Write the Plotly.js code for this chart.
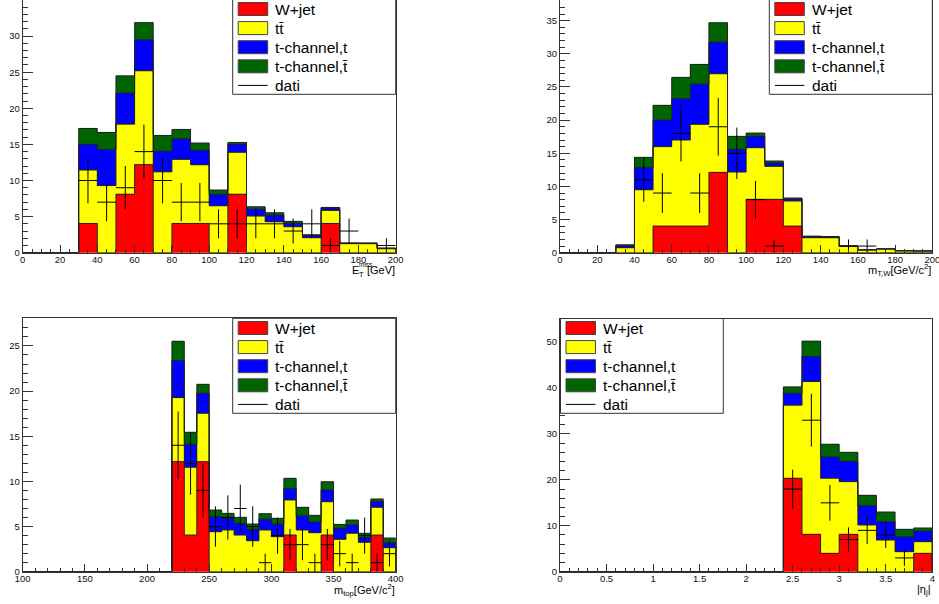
<!DOCTYPE html>
<html><head><meta charset="utf-8">
<script src="https://cdn.plot.ly/plotly-3.0.1.min.js"></script>
<style>html,body{margin:0;padding:0;background:#fff;overflow:hidden}#chart{width:939px;height:604px}</style>
</head><body><div id="chart"></div>
<script>
// ---------- Panel 1: E_T^miss [GeV] ----------
const metCenters = [5,15,25,35,45,55,65,75,85,95,105,115,125,135,145,155,165,175,185,195];
const metBinWidth = 10;
const metWjet  = [0,0,0,4.05,0,8.1,12.2,0,4.05,4.05,0,8.1,0,0,0,0,4.05,0,0,0];
const metTtbar = [0,0,0,7.4,9.3,9.7,13.0,11.2,8.87,8.13,6.5,5.8,5.08,4.29,3.6,2.08,1.8,1.25,1.25,0.55];
const metTchT  = [0,0,0,3.56,5.0,4.3,4.3,2.87,2.86,2.0,1.58,1.1,0.97,0.92,0.46,0.32,0.32,0.06,0.05,0.05];
const metTchTb = [0,0,0,2.2,2.36,2.4,2.37,2.17,1.29,1.01,0.6,0.27,0.32,0.33,0.28,0.09,0.1,0.05,0.05,0.05];
const metData  = [0,0,0,10,7,9,14,10,7,7,4,4,4,4,3,4,1,3,0,1];

// ---------- Panel 2: m_T,W [GeV/c^2] ----------
const mtwCenters = [5,15,25,35,45,55,65,75,85,95,105,115,125,135,145,155,165,175,185,195];
const mtwBinWidth = 10;
const mtwWjet  = [0,0,0,0,0,4.02,4.02,4.02,12.12,0,8.05,8.05,4.02,0,0,0,0,0,0,0];
const mtwTtbar = [0,0,0,0.75,9.5,11.98,12.98,15.34,14.88,12.17,7.79,4.97,3.78,2.26,2.26,0.95,0.4,0.55,0.28,0.25];
const mtwTchT  = [0,0,0,0.31,3.37,4.0,6.23,6.08,4.78,3.42,1.71,0.51,0.3,0.19,0.14,0.04,0.02,0.02,0.01,0.01];
const mtwTchTb = [0,0,0,0.14,1.51,2.23,3.22,2.96,2.92,1.96,0.5,0.3,0.15,0.05,0.05,0.03,0.03,0.02,0.02,0.02];
const mtwData  = [0,0,0,0,11,9,18,9,19,15,8,1,0,0,0,1,1,0,0,0];

// ---------- Panel 3: m_top [GeV/c^2] ----------
const mtopCenters = [105,115,125,135,145,155,165,175,185,195,205,215,225,235,245,255,265,275,285,295,305,315,325,335,345,355,365,375,385,395];
const mtopBinWidth = 10;
const mtopWjet  = [0,0,0,0,0,0,0,0,0,0,0,0,12.19,4.06,12.19,0,0,0,0,0,0,4.06,0,0,4.06,0,0,0,4.06,0];
const mtopTtbar = [0,0,0,0,0,0,0,0,0,0,0,0,7.09,7.5,5.35,4.43,4.62,4.06,3.43,4.62,3.88,3.88,4.62,4.32,3.69,3.58,4.25,3.25,3.07,2.66];
const mtopTchT  = [0,0,0,0,0,0,0,0,0,0,0,0,4.1,2.54,2.22,1.66,1.29,1.29,1.26,1.21,1.4,1.26,1.55,1.18,1.3,1.22,0.92,0.52,0.66,0.55];
const mtopTchTb = [0,0,0,0,0,0,0,0,0,0,0,0,2.14,1.34,0.99,0.74,0.55,0.67,0.59,0.6,0.63,1.14,0.96,0.74,0.92,0.44,0.55,0.48,0.26,0.52];
const mtopData  = [0,0,0,0,0,0,0,0,0,0,0,0,14,12,9,5,6,7,5,1,4,3,3,1,3,2,1,4,1,2];

// ---------- Panel 4: |eta_j| ----------
const etaCenters = [0.1,0.3,0.5,0.7,0.9,1.1,1.3,1.5,1.7,1.9,2.1,2.3,2.5,2.7,2.9,3.1,3.3,3.5,3.7,3.9];
const etaBinWidth = 0.2;
const etaWjet  = [0,0,0,0,0,0,0,0,0,0,0,0,20.35,8.14,4.0,8.14,0,0,0,4.0];
const etaTtbar = [0,0,0,0,0,0,0,0,0,0,0,0,15.91,33.28,16.35,11.48,10.17,6.9,4.36,2.54];
const etaTchT  = [0,0,0,0,0,0,0,0,0,0,0,0,2.62,5.46,4.65,4.43,4.22,4.0,3.27,2.33];
const etaTchTb = [0,0,0,0,0,0,0,0,0,0,0,0,1.38,3.34,2.76,1.95,2.25,2.1,1.6,0.65];
const etaData  = [0,0,0,0,0,0,0,0,0,0,0,0,18,33,15,7,9,8,3,0];

const legendLabels = ['W+jet', 'tt\u0304', 't-channel,t', 't-channel,t\u0304', 'dati'];
const seriesColors = ['#ff0000', '#ffff00', '#0000ff', '#006400'];

const W = 939, H = 604;
const px = v => v / W;
const py = v => 1 - v / H;
const FONT = 'Liberation Sans, Arial, Helvetica, sans-serif';

const panels = [
  {c: metCenters, w: metBinWidth, s: [metWjet, metTtbar, metTchT, metTchTb], d: metData,
   box: [22.7, 395.7, 0, 252.7], xr: [0, 200], yr: [0, 35], xdt: 20, xmin: 5, ydt: 5, ymin: 1, top: false,
   leg: [232.7, 395.7, -2, 94.3]},
  {c: mtwCenters, w: mtwBinWidth, s: [mtwWjet, mtwTtbar, mtwTchT, mtwTchTb], d: mtwData,
   box: [560, 932.3, 0, 252.7], xr: [0, 200], yr: [0, 38.12], xdt: 20, xmin: 5, ydt: 5, ymin: 1, top: false,
   leg: [769.3, 932.3, -2, 94.3]},
  {c: mtopCenters, w: mtopBinWidth, s: [mtopWjet, mtopTtbar, mtopTchT, mtopTchTb], d: mtopData,
   box: [22.7, 395.7, 318.3, 571.7], xr: [100, 400], yr: [0, 28.06], xdt: 50, xmin: 10, ydt: 5, ymin: 1, top: true,
   leg: [232.7, 395.7, 318.3, 413.3]},
  {c: etaCenters, w: etaBinWidth, s: [etaWjet, etaTtbar, etaTchT, etaTchTb], d: etaData,
   box: [560, 932.3, 318.5, 571.7], xr: [0, 4], yr: [0, 55.15], xdt: 0.5, xmin: 0.1, ydt: 10, ymin: 2, top: true,
   leg: [560.5, 723.3, 318.5, 413.3]}
];

const traces = [];
const layout = {
  width: W, height: H, margin: {l: 0, r: 0, t: 0, b: 0},
  paper_bgcolor: '#fff', plot_bgcolor: '#fff',
  barmode: 'stack', bargap: 0, showlegend: false,
  shapes: [], annotations: [], hovermode: false
};

panels.forEach((p, k) => {
  const n = k + 1;
  const xa = n === 1 ? 'x' : 'x' + n;
  const ya = n === 1 ? 'y' : 'y' + n;
  const [l, r, t, b] = p.box;
  p.s.forEach((vals, i) => {
    traces.push({type: 'bar', x: p.c, y: vals, width: p.c.map(() => p.w),
      marker: {color: seriesColors[i], line: {width: 0}}, xaxis: xa, yaxis: ya, hoverinfo: 'skip'});
  });
  const cum = p.c.map(() => 0);
  p.s.forEach(vals => {
    vals.forEach((v, j) => cum[j] += v);
    const xs = [p.c[0] - p.w / 2], ys = [0];
    p.c.forEach((c, j) => { xs.push(c - p.w / 2); ys.push(cum[j]); });
    xs.push(p.c[p.c.length - 1] + p.w / 2); ys.push(cum[cum.length - 1]);
    xs.push(p.c[p.c.length - 1] + p.w / 2); ys.push(0);
    traces.push({type: 'scatter', mode: 'lines', x: xs, y: ys, line: {shape: 'hv', color: '#222', width: 1},
      xaxis: xa, yaxis: ya, hoverinfo: 'skip'});
  });
  const dx = [], dy = [], ey = [], ex = [];
  p.d.forEach((v, j) => { if (v > 0) { dx.push(p.c[j]); dy.push(v); ey.push(Math.sqrt(v)); ex.push(p.w / 2); } });
  traces.push({type: 'scatter', mode: 'markers', x: dx, y: dy, marker: {size: 1, color: 'rgba(0,0,0,0)'},
    error_y: {type: 'data', array: ey, width: 0, thickness: 1, color: '#000'},
    error_x: {type: 'data', array: ex, width: 0, thickness: 1, color: '#000'},
    xaxis: xa, yaxis: ya, hoverinfo: 'skip'});

  const tickfont = {family: FONT, size: 9.5, color: '#111'};
  layout['xaxis' + (n === 1 ? '' : n)] = {
    domain: [px(l), px(r)], range: p.xr, anchor: ya, showline: true, linecolor: '#333', linewidth: 1,
    mirror: p.top, ticks: 'inside', ticklen: 8, tickcolor: '#333', tick0: 0, dtick: p.xdt,
    minor: {ticks: 'inside', ticklen: 4, dtick: p.xmin, tick0: 0, tickcolor: '#333', showgrid: false},
    showgrid: false, zeroline: false, tickfont: tickfont, automargin: false, fixedrange: true,
    ticklabelstandoff: -2, ticklabeloverflow: 'allow'
  };
  layout['yaxis' + (n === 1 ? '' : n)] = {
    domain: [py(b), Math.min(1, py(t))], range: p.yr, anchor: xa, showline: true, linecolor: '#333', linewidth: 1,
    mirror: true, ticks: 'inside', ticklen: 10, tickcolor: '#333', tick0: 0, dtick: p.ydt,
    minor: {ticks: 'inside', ticklen: 5, dtick: p.ymin, tick0: 0, tickcolor: '#333', showgrid: false},
    showgrid: false, zeroline: false, tickfont: tickfont, automargin: false, fixedrange: true
  };

  const [ll, lr, lt, lb] = p.leg;
  layout.shapes.push({type: 'rect', xref: 'paper', yref: 'paper', x0: px(ll), x1: px(lr), y0: py(lb), y1: py(lt),
    line: {color: '#333', width: 1}, fillcolor: '#fff', layer: 'above'});
  legendLabels.forEach((lab, i) => {
    const cy = lb - 85.3 + 19.1 * i;
    if (i < 4) {
      layout.shapes.push({type: 'rect', xref: 'paper', yref: 'paper', x0: px(ll + 5.5), x1: px(ll + 35),
        y0: py(cy + 6.5), y1: py(cy - 6.5), line: {color: '#444', width: 1}, fillcolor: seriesColors[i], layer: 'above'});
    } else {
      layout.shapes.push({type: 'line', xref: 'paper', yref: 'paper', x0: px(ll + 5.5), x1: px(ll + 35),
        y0: py(cy), y1: py(cy), line: {color: '#000', width: 1}, layer: 'above'});
    }
    layout.annotations.push({xref: 'paper', yref: 'paper', x: px(ll + 40.5), y: py(cy), xanchor: 'left', yanchor: 'middle',
      text: lab, showarrow: false, font: {family: FONT, size: 15.5, color: '#000'}});
  });
});

const tf = {family: FONT, size: 11, color: '#000'};
layout.annotations.push(
  {xref: 'paper', yref: 'paper', x: px(349.5), y: py(269.5), xanchor: 'left', yanchor: 'middle', text: 'E', showarrow: false, font: tf},
  {xref: 'paper', yref: 'paper', x: px(357), y: py(274), xanchor: 'left', yanchor: 'middle', text: 'T', showarrow: false, font: {family: FONT, size: 7.5, color: '#000'}},
  {xref: 'paper', yref: 'paper', x: px(357), y: py(264), xanchor: 'left', yanchor: 'middle', text: 'miss', showarrow: false, font: {family: FONT, size: 6.5, color: '#000'}},
  {xref: 'paper', yref: 'paper', x: px(397), y: py(270), xanchor: 'right', yanchor: 'middle', text: '[GeV]', showarrow: false, font: tf},
  {xref: 'paper', yref: 'paper', x: px(933), y: py(270), xanchor: 'right', yanchor: 'middle', text: 'm<sub>T,W</sub>[GeV/c<sup>2</sup>]', showarrow: false, font: tf},
  {xref: 'paper', yref: 'paper', x: px(396.5), y: py(590), xanchor: 'right', yanchor: 'middle', text: 'm<sub>top</sub>[GeV/c<sup>2</sup>]', showarrow: false, font: tf},
  {xref: 'paper', yref: 'paper', x: px(933), y: py(590), xanchor: 'right', yanchor: 'middle', text: '|\u03b7<sub>j</sub>|', showarrow: false, font: tf}
);

Plotly.newPlot('chart', traces, layout, {displayModeBar: false, staticPlot: true});
</script></body></html>
